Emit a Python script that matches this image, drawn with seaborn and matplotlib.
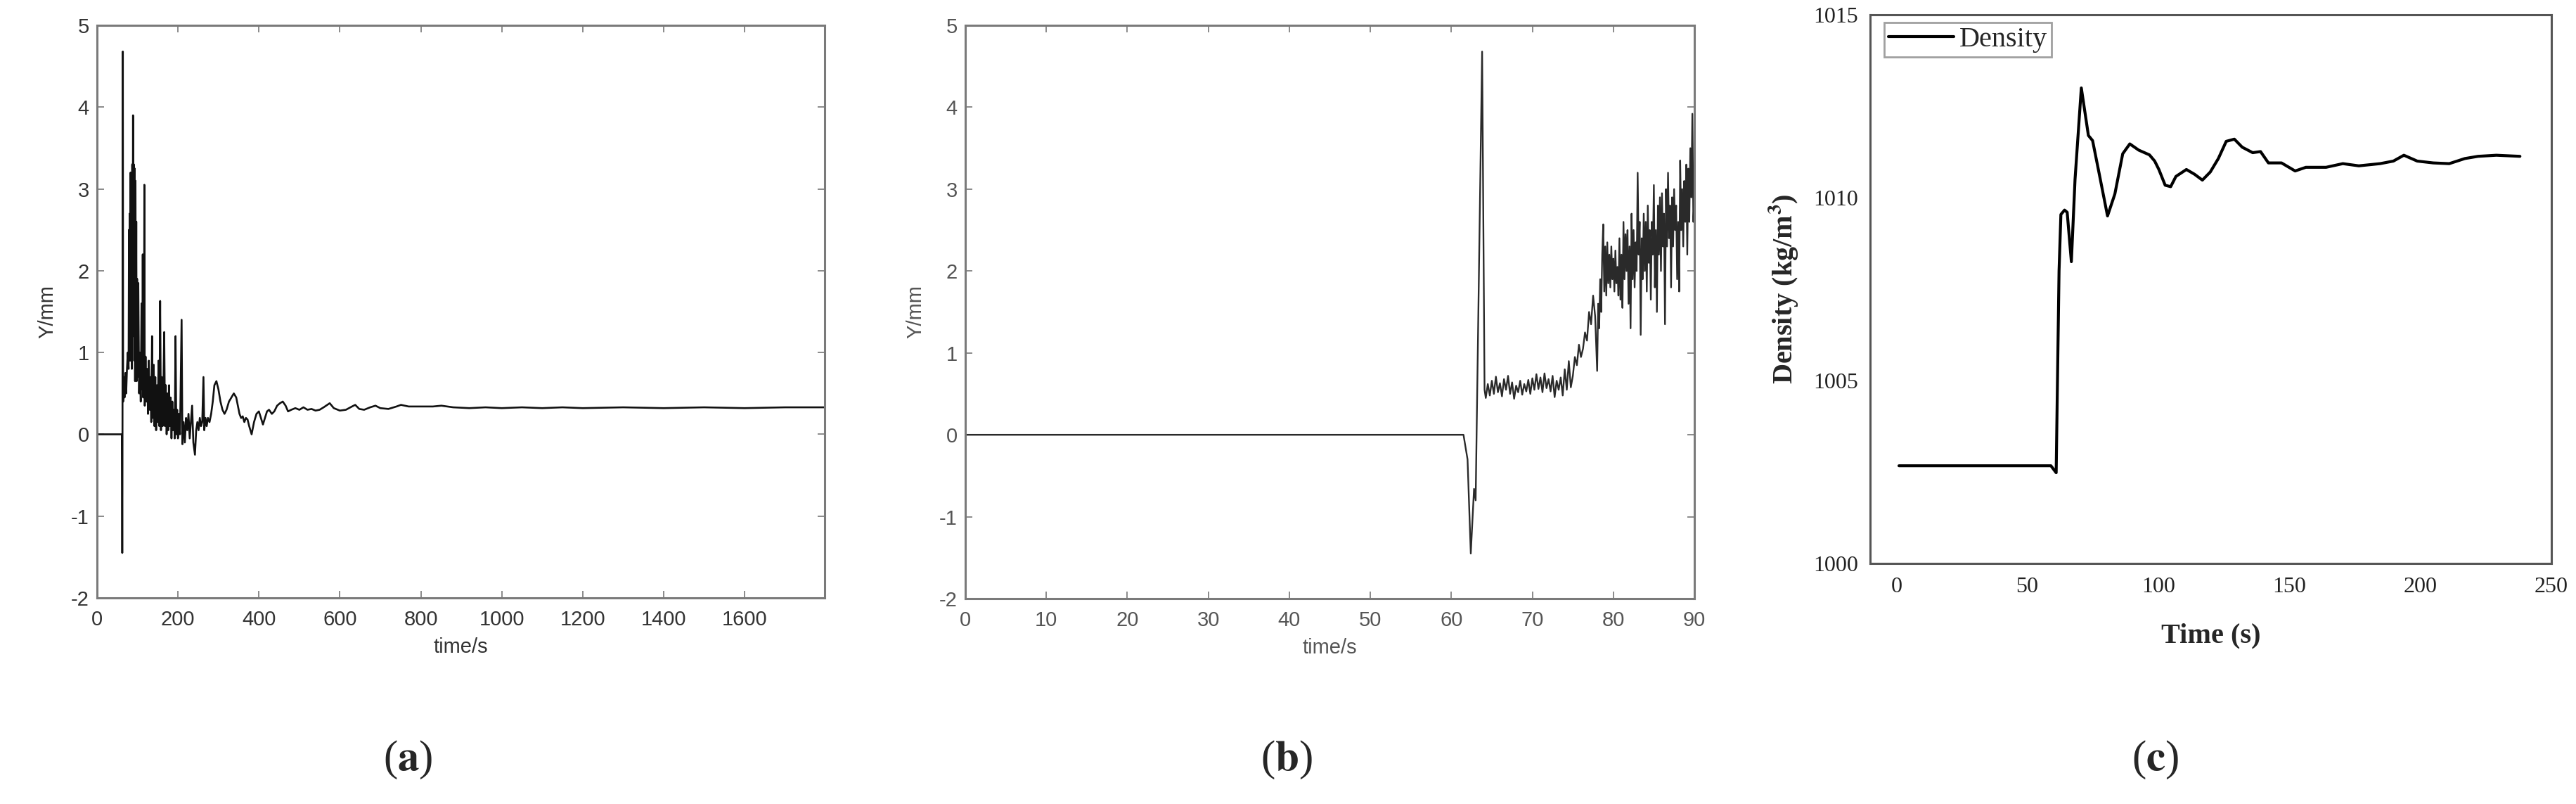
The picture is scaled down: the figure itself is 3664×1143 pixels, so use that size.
import numpy as np
import pandas as pd
import matplotlib
matplotlib.use("Agg")
import matplotlib.pyplot as plt
import seaborn as sns
from matplotlib.ticker import MultipleLocator

# ---------------- data ----------------

# (a) displacement over the whole run
time_a = [0, 60, 61.5, 62.4, 62.8, 63.8, 64.5, 66, 68, 70, 72, 74, 76, 78, 79, 80, 81, 82, 83, 84,
          85, 86, 87, 88, 89, 90, 91, 92, 93, 94, 95, 96, 97, 98, 99, 100, 102, 104, 106, 108,
          110, 112, 113, 114, 116, 117, 118, 120, 122, 124, 126, 128, 130, 132, 134, 136, 138, 140, 142, 144,
          146, 148, 150, 152, 154, 156, 158, 160, 162, 164, 166, 168, 170, 172, 174, 176, 178, 180, 182, 184,
          186, 188, 190, 192, 194, 196, 198, 200, 202, 205, 209, 211, 214, 217, 220, 223, 226, 229, 232, 235,
          238, 242, 245, 248, 251, 254, 257, 260, 263, 265, 268, 271, 274, 278, 282, 286, 290, 295, 300, 305,
          310, 315, 320, 326, 332, 338, 344, 348, 352, 356, 360, 364, 368, 372, 376, 382, 388, 394, 400, 405,
          410, 415, 420, 425, 432, 438, 445, 452, 459, 466, 472, 480, 490, 500, 510, 520, 530, 540, 550, 560,
          575, 585, 600, 615, 630, 638, 648, 660, 675, 688, 700, 720, 740, 751, 770, 800, 830, 851, 880, 920,
          960, 1000, 1050, 1100, 1150, 1200, 1300, 1400, 1500, 1600, 1700, 1800]
disp_a = [0, 0, 0, -1.45, -0.66, 4.68, 0.4, 0.7, 0.45, 0.75, 0.5, 0.8, 1.0, 0.8, 2.5, 1.5, 2.7, 0.9, 3.2, 1.2,
          3.0, 0.8, 3.3, 1.6, 3.9, 1.2, 3.3, 0.9, 3.25, 0.65, 3.1, 1.0, 2.6, 0.65, 1.9, 0.7, 1.85, 0.5, 1.0, 0.4,
          1.6, 0.55, 2.2, 0.45, 0.9, 3.05, 0.35, 0.95, 0.4, 0.8, 0.25, 0.9, 0.3, 0.7, 0.15, 1.2, 0.2, 0.85, 0.1, 0.7,
          0.05, 0.6, 0.15, 0.9, 0.1, 1.63, 0.05, 0.7, 0.1, 0.55, 1.25, 0.1, 0.6, 0.0, 0.5, 0.05, 0.6, 0.1, 0.45, -0.05,
          0.4, 0.05, 0.3, -0.05, 1.2, 0.0, 0.3, -0.05, 0.25, 0.0, 1.4, -0.12, 0.15, -0.1, 0.2, 0.05, 0.25, -0.05, 0.15, 0.35,
          -0.1, -0.25, 0.05, 0.15, 0.05, 0.2, 0.1, 0.15, 0.7, 0.05, 0.2, 0.1, 0.2, 0.15, 0.25, 0.4, 0.6, 0.65, 0.55, 0.4,
          0.3, 0.25, 0.3, 0.4, 0.45, 0.5, 0.45, 0.35, 0.25, 0.2, 0.22, 0.15, 0.2, 0.18, 0.1, 0.0, 0.15, 0.25, 0.28, 0.2,
          0.12, 0.2, 0.28, 0.3, 0.25, 0.28, 0.35, 0.38, 0.4, 0.35, 0.28, 0.3, 0.32, 0.3, 0.33, 0.3, 0.31, 0.29, 0.3, 0.33,
          0.38, 0.32, 0.29, 0.3, 0.34, 0.36, 0.31, 0.3, 0.33, 0.35, 0.32, 0.31, 0.34, 0.36, 0.34, 0.34, 0.34, 0.35, 0.33, 0.32,
          0.33, 0.32, 0.33, 0.32, 0.33, 0.32, 0.33, 0.32, 0.33, 0.32, 0.33, 0.33]

# (b) first 90 s
time_b = [0, 61.5, 62.0, 62.4, 62.8, 63.0, 63.8, 64.1,
          64.25, 64.5, 64.75, 65.0, 65.25, 65.5, 65.75, 66.0, 66.25, 66.5, 66.75, 67.0, 67.25, 67.5, 67.75,
          68.0, 68.25, 68.5, 68.75, 69.0, 69.25, 69.5, 69.75, 70.0, 70.25, 70.5, 70.75, 71.0, 71.25, 71.5,
          71.75, 72.0, 72.25, 72.5, 72.75, 73.0, 73.25, 73.5, 73.75, 74.0, 74.25, 74.5, 74.75, 75.0,
          75.25, 75.5, 75.75, 76.0, 76.25, 76.5, 76.75, 77.0, 77.25, 77.5, 77.75, 78.0,
          78.125, 78.25, 78.375, 78.5, 78.625, 78.75, 78.875, 79.0, 79.125, 79.25, 79.375, 79.5,
          79.625, 79.75, 79.875, 80.0, 80.125, 80.25, 80.375, 80.5, 80.625, 80.75, 80.875, 81.0,
          81.125, 81.25, 81.375, 81.5, 81.625, 81.75, 81.875, 82.0, 82.125, 82.25, 82.375, 82.5,
          82.625, 82.75, 82.875, 83.0, 83.125, 83.25, 83.375, 83.5, 83.625, 83.75, 83.875, 84.0,
          84.125, 84.25, 84.375, 84.5, 84.625, 84.75, 84.875, 85.0, 85.125, 85.25, 85.375, 85.5,
          85.625, 85.75, 85.875, 86.0, 86.125, 86.25, 86.375, 86.5, 86.625, 86.75, 86.875, 87.0,
          87.125, 87.25, 87.375, 87.5, 87.625, 87.75, 87.875, 88.0, 88.125, 88.25, 88.375, 88.5,
          88.625, 88.75, 88.875, 89.0, 89.125, 89.25, 89.375, 89.5, 89.625, 89.75, 89.875, 90.0]
disp_b = [0, 0, -0.3, -1.45, -0.66, -0.8, 4.68, 0.55,
          0.45, 0.62, 0.48, 0.66, 0.50, 0.71, 0.52, 0.63, 0.47, 0.68, 0.55, 0.72, 0.50, 0.64, 0.44,
          0.60, 0.52, 0.66, 0.49, 0.62, 0.53, 0.67, 0.50, 0.69, 0.55, 0.74, 0.56, 0.70, 0.52, 0.75,
          0.57, 0.68, 0.53, 0.72, 0.46, 0.66, 0.55, 0.70, 0.48, 0.80, 0.55, 0.90, 0.58, 0.72,
          0.95, 0.85, 1.10, 0.95, 1.05, 1.25, 1.15, 1.50, 1.35, 1.70, 1.45, 0.78,
          1.6, 1.3, 1.9, 1.5, 2.2, 2.57, 1.75, 2.3, 1.7, 2.35, 1.85, 2.2,
          1.8, 2.3, 1.9, 2.15, 1.75, 2.25, 1.85, 2.05, 1.7, 2.4, 1.65, 2.2,
          1.55, 2.6, 1.9, 2.45, 2.0, 2.5, 1.6, 2.3, 1.3, 2.7, 1.9, 2.5,
          1.8, 2.35, 2.0, 3.2, 2.2, 2.6, 1.22, 2.4, 1.9, 2.7, 2.0, 2.6,
          1.75, 2.8, 2.1, 2.5, 1.65, 2.6, 2.2, 3.05, 1.8, 2.5, 1.5, 2.8,
          2.2, 2.9, 2.0, 2.95, 2.3, 2.7, 1.35, 3.0, 2.3, 3.2, 2.4, 2.8,
          1.8, 2.9, 2.3, 3.0, 2.5, 2.8, 1.9, 2.6, 1.75, 3.35, 2.5, 3.0,
          2.3, 3.1, 2.6, 3.3, 2.2, 3.25, 2.6, 3.5, 2.9, 3.92, 2.6, 2.9]

# (c) density
time_c = [1, 59, 61, 62.1, 62.8, 64.2, 65.2, 66.8, 68.2, 70.6, 73.3, 74.9, 77.3, 80.6, 83.4, 86.4, 89.1,
          92.5, 96.6, 98.6, 100.2, 102.6, 104.7, 106.7, 110.7, 113.8, 116.8, 119.8, 122.9, 125.9, 129,
          132, 136, 139, 142, 147, 152.2, 156.3, 164, 170.4, 176.5, 184.6, 189.7, 193.7, 198.8, 204.9,
          211, 217, 222, 229, 238]
density_c = [1002.67, 1002.67, 1002.48, 1008.0, 1009.54, 1009.66, 1009.6, 1008.25, 1010.5, 1013.0, 1011.7,
             1011.56, 1010.7, 1009.5, 1010.1, 1011.2, 1011.47, 1011.3, 1011.17, 1011.0, 1010.77, 1010.34,
             1010.3, 1010.58, 1010.77, 1010.64, 1010.48, 1010.7, 1011.07, 1011.54, 1011.6, 1011.38, 1011.23,
             1011.26, 1010.95, 1010.95, 1010.73, 1010.83, 1010.83, 1010.93, 1010.87, 1010.93, 1011.0, 1011.16,
             1011.0, 1010.95, 1010.93, 1011.07, 1011.13, 1011.16, 1011.13]

xticks_a = [0, 200, 400, 600, 800, 1000, 1200, 1400, 1600]
xticks_b = [0, 10, 20, 30, 40, 50, 60, 70, 80, 90]
yticks_ab = [-2, -1, 0, 1, 2, 3, 4, 5]
captions = ["a", "b", "c"]

df_a = pd.DataFrame({"time": time_a, "Y": disp_a})
df_b = pd.DataFrame({"time": time_b, "Y": disp_b})
df_c = pd.DataFrame({"time": time_c, "Density": density_c})

# ---------------- figure ----------------
sns.set_style("white")
plt.rcParams["mathtext.fontset"] = "stix"

W, H = 3664, 1143
fig = plt.figure(figsize=(W / 100, H / 100), dpi=100)


def frac(left, top, right, bottom):
    return [left / W, 1 - bottom / H, (right - left) / W, (bottom - top) / H]


ax_a = fig.add_axes(frac(138, 36, 1173, 850))
ax_b = fig.add_axes(frac(1373, 36, 2410, 851))
ax_c = fig.add_axes(frac(2660, 21, 3629, 801))

sans = "Liberation Sans"
serif = "Liberation Serif"


def matlab_style(ax, xticks, xlim, label_color):
    ax.set_xlim(*xlim)
    ax.set_ylim(-2, 5)
    ax.set_xticks(xticks)
    ax.set_yticks(yticks_ab)
    ax.set_xticklabels([str(t) for t in xticks], family=sans, fontsize=21, color=label_color)
    ax.set_yticklabels([str(t) for t in yticks_ab], family=sans, fontsize=21, color=label_color)
    ax.tick_params(direction="in", length=7, width=1.2, color="#777777",
                   top=True, right=True, left=True, bottom=True)
    ax.tick_params(axis="x", pad=12)
    ax.tick_params(axis="y", pad=8)
    for s in ax.spines.values():
        s.set_color("#7a7a7a")
        s.set_linewidth(2.2)
    ax.set_xlabel("time/s", family=sans, fontsize=21, color=label_color, labelpad=8)
    ax.set_ylabel("Y/mm", family=sans, fontsize=21, color=label_color, labelpad=14)


sns.lineplot(data=df_a, x="time", y="Y", ax=ax_a, color="#111111", linewidth=1.9,
             estimator=None, sort=False)
matlab_style(ax_a, xticks_a, (0, 1798), "#333333")

sns.lineplot(data=df_b, x="time", y="Y", ax=ax_b, color="#2a2a2a", linewidth=1.7,
             estimator=None, sort=False)
matlab_style(ax_b, xticks_b, (0, 90), "#555555")

# (c) Origin-style panel
sns.lineplot(data=df_c, x="time", y="Density", ax=ax_c, color="black", linewidth=3.0,
             estimator=None, sort=False, label="Density")
ax_c.set_xlim(-10, 250)
ax_c.set_ylim(1000, 1015)
ax_c.xaxis.set_major_locator(MultipleLocator(50))
ax_c.xaxis.set_minor_locator(MultipleLocator(25))
ax_c.yaxis.set_major_locator(MultipleLocator(5))
ax_c.yaxis.set_minor_locator(MultipleLocator(2.5))
ax_c.tick_params(which="major", direction="in", length=11, width=2, color="#666666", pad=14)
ax_c.tick_params(which="minor", direction="in", length=6, width=2, color="#444444")
ax_c.tick_params(axis="y", which="both", pad=12)
for lab in ax_c.get_xticklabels() + ax_c.get_yticklabels():
    lab.set_family(serif)
    lab.set_fontsize(23)
    lab.set_color("#222222")
for s in ax_c.spines.values():
    s.set_color("#555555")
    s.set_linewidth(2.2)
ax_c.set_xlabel("Time (s)", family=serif, fontsize=29, fontweight="bold", labelpad=26)
ax_c.set_ylabel(r"Density (kg/m$^{\mathbf{3}}$)", family=serif, fontsize=29, fontweight="bold",
                labelpad=14)
leg = ax_c.legend(loc="upper left", bbox_to_anchor=(0.0206, 0.986), borderaxespad=0,
                  frameon=True, fancybox=False, prop={"family": serif, "size": 29},
                  handlelength=2.3, handletextpad=0.2, borderpad=0.15)
leg.get_frame().set_edgecolor("#888888")
leg.get_frame().set_linewidth(2)

# panel captions
for cap, xc in zip(captions, [580, 1830, 3066]):
    fig.text(xc / W, 1 - 1080 / H, "(" + r"$\mathbf{" + cap + "}$" + ")", family=serif,
             fontsize=44, ha="center", va="center")

fig.savefig("out.png", dpi=100, facecolor="white")
